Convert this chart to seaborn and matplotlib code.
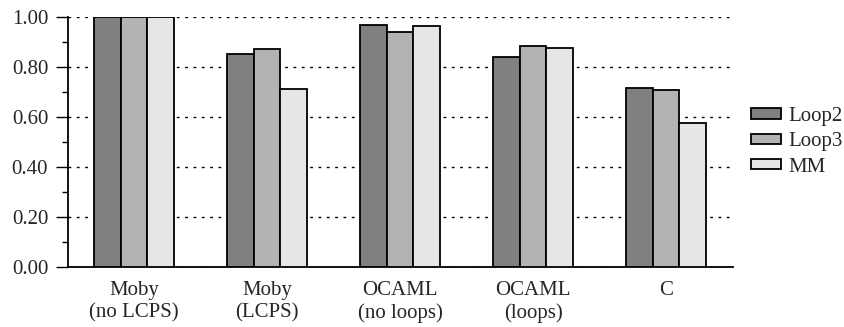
import numpy as np
import pandas as pd
import matplotlib
matplotlib.use("Agg")
import matplotlib.pyplot as plt
from matplotlib.ticker import MultipleLocator, FormatStrFormatter
import seaborn as sns

# datos
benchmarks = ["Moby\n(no LCPS)", "Moby\n(LCPS)", "OCAML\n(no loops)", "OCAML\n(loops)", "C"]
series = ["Loop2", "Loop3", "MM"]
loop2 = [1.00, 0.851, 0.967, 0.840, 0.715]
loop3 = [1.00, 0.872, 0.939, 0.881, 0.709]
mm = [1.00, 0.711, 0.963, 0.876, 0.577]
colores = ["#808080", "#b3b3b3", "#e6e6e6"]

df = pd.DataFrame({
    "bench": benchmarks * 3,
    "serie": [s for s in series for _ in benchmarks],
    "valor": loop2 + loop3 + mm,
})

sns.set_theme(style="white")
plt.rcParams["font.family"] = ["Liberation Serif", "DejaVu Serif"]
plt.rcParams["font.size"] = 15

fig = plt.figure(figsize=(8.45, 3.27), dpi=100)
ax = fig.add_axes([0.080, 0.183, 0.787, 0.766])

sns.barplot(data=df, x="bench", y="valor", hue="serie", order=benchmarks, hue_order=series,
            palette=colores, width=0.6, edgecolor="black", linewidth=1.3, saturation=1, ax=ax, zorder=3)

ax.set_xlim(-0.5, 4.5)
ax.set_ylim(0, 1.0)
ax.yaxis.set_major_locator(MultipleLocator(0.2))
ax.yaxis.set_minor_locator(MultipleLocator(0.1))
ax.yaxis.set_major_formatter(FormatStrFormatter("%.2f"))
ax.grid(axis="y", which="major", color="black", linestyle=(0, (2, 4)), linewidth=1, zorder=0)
ax.set_axisbelow(True)

for s in ["top", "right"]:
    ax.spines[s].set_visible(False)
for s in ["left", "bottom"]:
    ax.spines[s].set_color("black")
    ax.spines[s].set_linewidth(1.3)

ax.tick_params(axis="y", which="major", direction="out", length=9, width=1, color="black", left=True,
               labelsize=15, pad=5)
ax.tick_params(axis="y", which="minor", direction="out", length=4.5, width=1, color="black", left=True)
ax.tick_params(axis="x", which="both", length=0, labelsize=15, pad=10)
ax.set_xlabel("")
ax.set_ylabel("")

leg = ax.legend(loc="center left", bbox_to_anchor=(1.0, 0.5), frameon=False, fontsize=15,
                handlelength=1.4, handleheight=0.4, labelspacing=0.3, handletextpad=0.4)
for h in leg.get_patches():
    h.set_edgecolor("black")

fig.savefig("out.png", dpi=100)
